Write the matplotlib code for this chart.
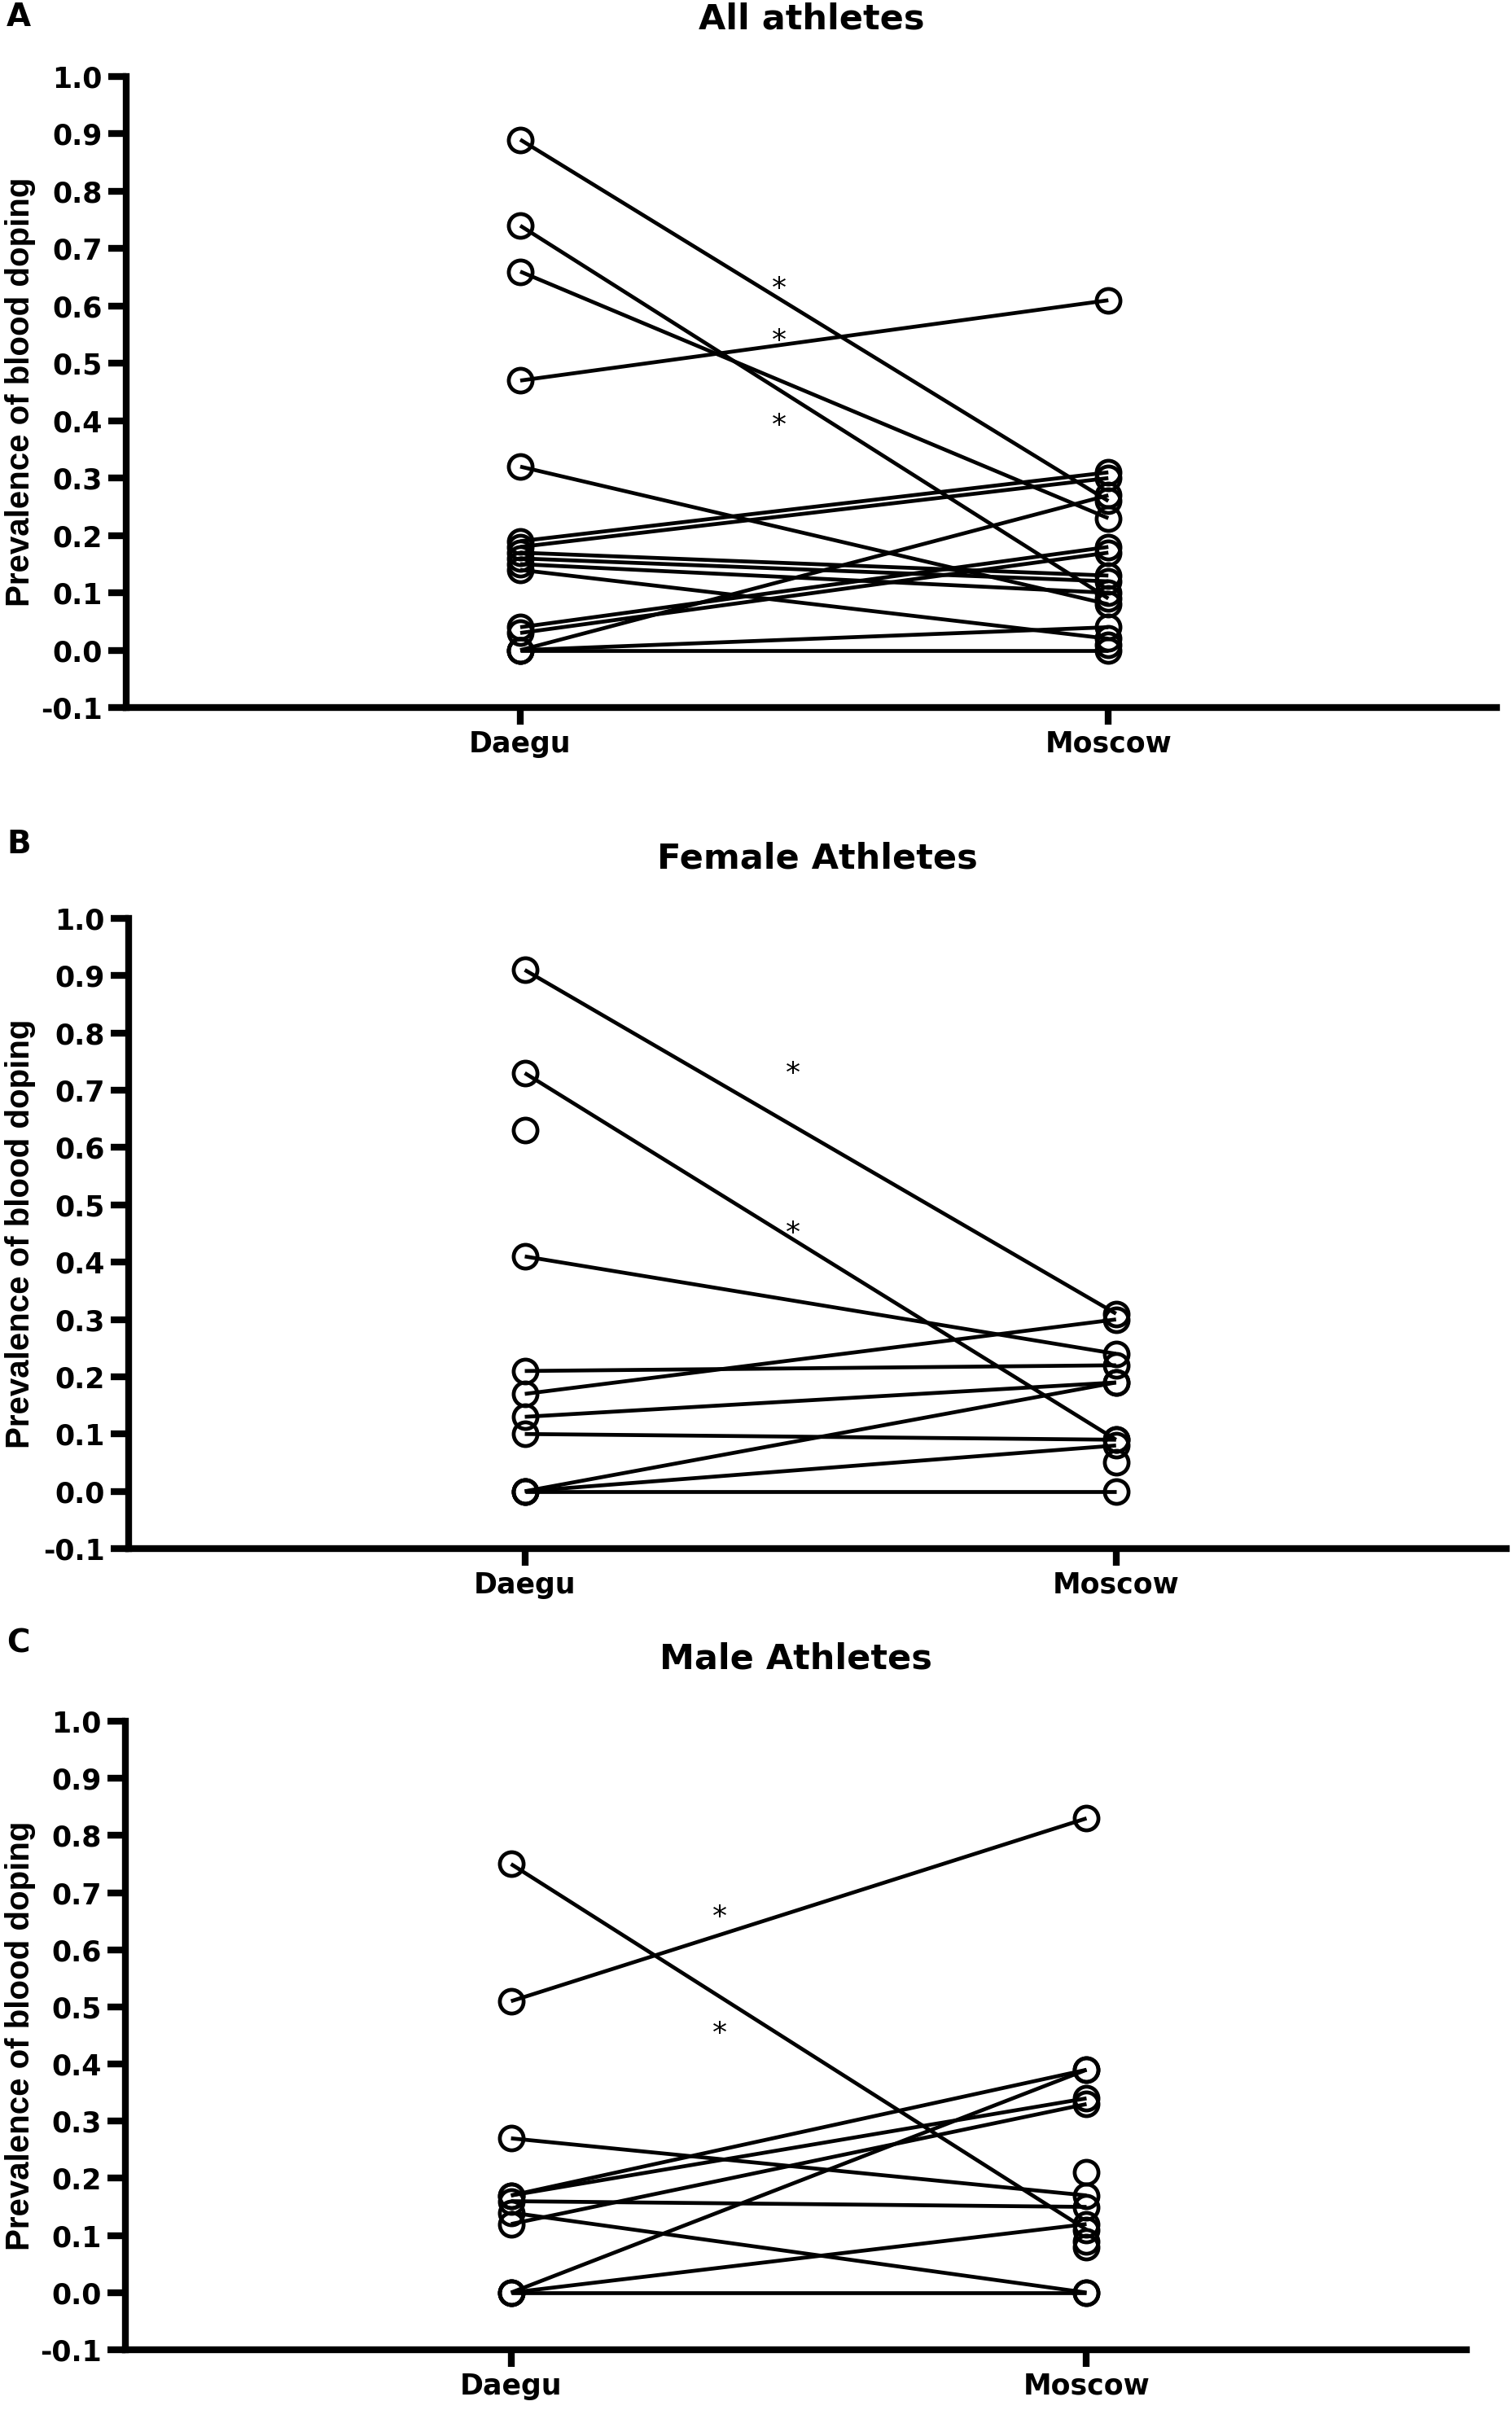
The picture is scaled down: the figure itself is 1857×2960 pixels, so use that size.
import numpy as np
import matplotlib
matplotlib.use("Agg")
import matplotlib.pyplot as plt

plt.rcParams['axes.unicode_minus'] = False

# ---------------- data ----------------
groups = ["Daegu", "Moscow"]
yticks = [-0.1, 0.0, 0.1, 0.2, 0.3, 0.4, 0.5, 0.6, 0.7, 0.8, 0.9, 1.0]
ylabel = "Prevalence of blood doping"

titles = ["All athletes", "Female Athletes", "Male Athletes"]
letters = ["A", "B", "C"]

# Panel A (NaN = value only present at one site)
A_daegu = [0.89, 0.74, 0.66, 0.47, 0.32, 0.19, 0.18, 0.17, 0.16, 0.15, 0.14, 0.04, 0.03, 0.00, 0.00, 0.00, np.nan]
A_moscow = [0.26, 0.09, 0.23, 0.61, 0.08, 0.31, 0.30, 0.13, 0.12, 0.10, 0.02, 0.18, 0.17, 0.27, 0.04, 0.00, 0.01]
A_stars = [0.644, 0.553, 0.406]

# Panel B
B_daegu = [0.91, 0.73, 0.41, 0.21, 0.17, 0.13, 0.10, 0.00, 0.00, 0.00, 0.63, np.nan]
B_moscow = [0.31, 0.09, 0.24, 0.22, 0.30, 0.19, 0.09, 0.19, 0.08, 0.00, np.nan, 0.05]
B_stars = [0.743, 0.465]

# Panel C
C_daegu = [0.51, 0.75, 0.27, 0.17, 0.17, 0.16, 0.14, 0.12, 0.00, 0.00, 0.00, np.nan, np.nan, np.nan]
C_moscow = [0.83, 0.11, 0.17, 0.39, 0.34, 0.15, 0.00, 0.33, 0.39, 0.12, 0.00, 0.21, 0.09, 0.08]
C_stars = [0.671, 0.467]

star_x = [0.44, 0.454, 0.362]

panels = [(A_daegu, A_moscow, A_stars), (B_daegu, B_moscow, B_stars), (C_daegu, C_moscow, C_stars)]

# ---------------- layout ----------------
W, H = 1857, 2960
fig = plt.figure(figsize=(W / 100, H / 100), dpi=100)

# axes boxes in pixels: left, right, top, bottom
boxes = [(155, 1838, 94, 869), (158, 1850, 1128, 1902), (154, 1801, 2114, 2886)]
title_y = [24, 1055, 2038]
letter_y = [21, 1037, 2018]

HFONT = "DejaVu Sans"
VFONT = "Liberation Sans"

for k, ((d, m, stars), (l, r, t, b)) in enumerate(zip(panels, boxes)):
    ax = fig.add_axes([l / W, 1 - b / H, (r - l) / W, (b - t) / H])
    d = np.array(d, dtype=float)
    m = np.array(m, dtype=float)
    for dv, mv in zip(d, m):
        if np.isfinite(dv) and np.isfinite(mv):
            ax.plot([0, 1], [dv, mv], color="black", lw=3.4, solid_capstyle="butt", zorder=2)
    ax.plot(np.zeros(np.isfinite(d).sum()), d[np.isfinite(d)], linestyle="none", marker="o",
            ms=21, mfc="none", mec="black", mew=3.4, zorder=3, clip_on=False)
    ax.plot(np.ones(np.isfinite(m).sum()), m[np.isfinite(m)], linestyle="none", marker="o",
            ms=21, mfc="none", mec="black", mew=3.4, zorder=3, clip_on=False)

    for sy in stars:
        ax.annotate("*", xy=(star_x[k], sy), xytext=(0, -0.56 * 26), textcoords="offset points",
                    ha="center", va="baseline", fontsize=26, family=HFONT)

    ax.set_xlim(-0.67, 1.66)
    ax.set_ylim(-0.1, 1.0)
    ax.set_xticks([0, 1])
    ax.set_xticklabels(groups, fontsize=25, fontweight="bold", family=HFONT)
    ax.set_yticks(yticks)
    ax.set_yticklabels(["%.1f" % v for v in yticks], fontsize=25, fontweight="bold", family=HFONT)
    for s in ["top", "right"]:
        ax.spines[s].set_visible(False)
    for s in ["left", "bottom"]:
        ax.spines[s].set_linewidth(6)
    ax.tick_params(axis="y", length=16, width=6, pad=5, direction="out")
    ax.tick_params(axis="x", length=15, width=6, pad=5, direction="out")

    ax.set_ylabel(ylabel, fontsize=29, fontweight="bold", family=VFONT)
    ax.yaxis.label.set_va("center")
    ax.yaxis.set_label_coords((25 - l) / (r - l), 0.5)

    fig.text((l + r) / 2 / W, 1 - title_y[k] / H, titles[k], ha="center", va="center",
             fontsize=31, fontweight="bold", family=HFONT)
    fig.text(8 / W, 1 - letter_y[k] / H, letters[k], ha="left", va="center",
             fontsize=28, fontweight="bold", family=HFONT)

fig.savefig("out.png", dpi=100, facecolor="white")
